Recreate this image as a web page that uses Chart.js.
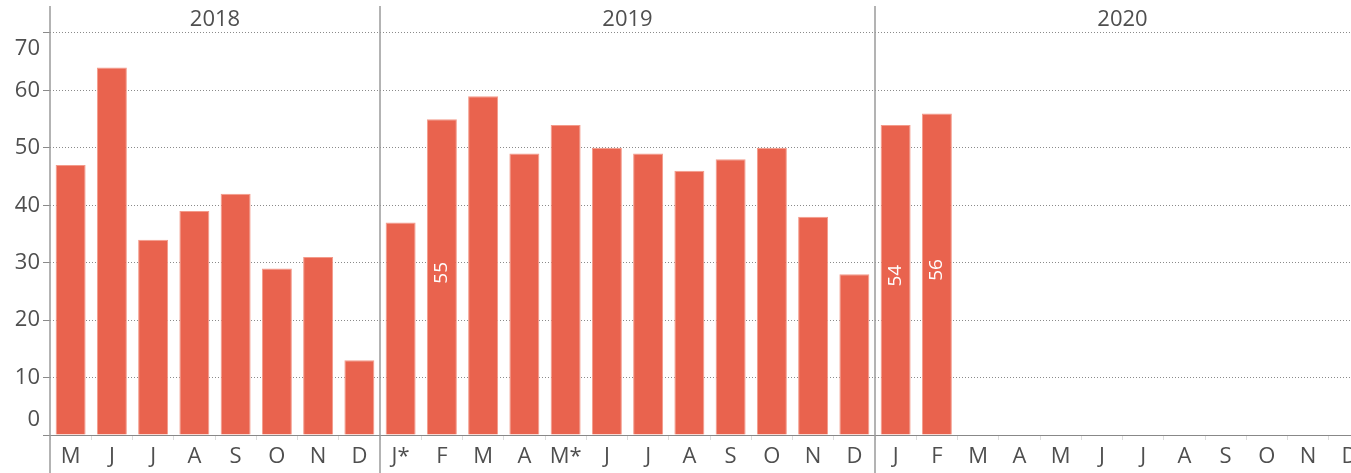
<!DOCTYPE html>
<html><head><meta charset="utf-8">
<script src="https://cdn.jsdelivr.net/npm/chart.js@4"></script>
<style>
html,body{margin:0;padding:0;background:#fff;overflow:hidden;}
#wrap{position:relative;width:1370px;height:473px;}
</style></head>
<body><div id="wrap"><canvas id="c"></canvas></div>
<script>
const years = ['2018', '2019', '2020'];
const monthsPerYear = [8, 12, 12];
const months = ['M','J','J','A','S','O','N','D',
                'J*','F','M','A','M*','J','J','A','S','O','N','D',
                'J','F','M','A','M','J','J','A','S','O','N','D'];
const values = [47, 64, 34, 39, 42, 29, 31, 13,
                37, 55, 59, 49, 54, 50, 49, 46, 48, 50, 38, 28,
                54, 56, null, null, null, null, null, null, null, null, null, null];
const labelledBars = [9, 20, 21];
const yTickValues = [0, 10, 20, 30, 40, 50, 60, 70];

const FONT = '"Open Sans", "DejaVu Sans", sans-serif';
const TEXT = '#4f4f4f';

const deco = {
  id: 'deco',
  afterDatasetsDraw(chart) {
    const ctx = chart.ctx;
    const meta = chart.getDatasetMeta(0);
    ctx.save();
    ctx.fillStyle = '#ffffff';
    ctx.font = '19px ' + FONT;
    ctx.textAlign = 'center';
    ctx.textBaseline = 'middle';
    labelledBars.forEach(i => {
      const el = meta.data[i];
      if (!el || values[i] == null) return;
      const cy = (el.y + el.base) / 2 - 4;
      ctx.save();
      ctx.translate(el.x, cy);
      ctx.rotate(-Math.PI / 2);
      ctx.fillText(String(values[i]), 0, 0);
      ctx.restore();
    });
    ctx.restore();
  },
  afterDraw(chart) {
    const ctx = chart.ctx;
    const xs = chart.scales.x, ys = chart.scales.y;
    const half = (xs.getPixelForValue(1) - xs.getPixelForValue(0)) / 2;
    ctx.save();
    let idx = 0;
    years.forEach((yr, i) => {
      const s = idx, e = idx + monthsPerYear[i] - 1;
      idx += monthsPerYear[i];
      const left = xs.getPixelForValue(s) - half;
      const right = xs.getPixelForValue(e) + half;
      ctx.strokeStyle = '#9a9a9a';
      ctx.lineWidth = 1.5;
      ctx.beginPath();
      ctx.moveTo(left, 6);
      ctx.lineTo(left, chart.height);
      ctx.stroke();
      ctx.fillStyle = TEXT;
      ctx.font = '22px ' + FONT;
      ctx.textAlign = 'center';
      ctx.textBaseline = 'middle';
      ctx.fillText(yr, (left + right) / 2, 20);
    });
    ctx.fillStyle = TEXT;
    ctx.font = '22px ' + FONT;
    ctx.textAlign = 'right';
    ctx.textBaseline = 'middle';
    yTickValues.forEach(v => {
      let py = ys.getPixelForValue(v);
      if (v === yTickValues[yTickValues.length - 1]) py += 16;
      if (v === 0) py -= 15;
      ctx.fillText(String(v), 40, py);
    });
    ctx.restore();
  }
};

new Chart(document.getElementById('c'), {
  type: 'bar',
  data: {
    labels: months,
    datasets: [{
      data: values,
      backgroundColor: '#e9634e',
      borderColor: '#f39a8a',
      borderWidth: 1,
      categoryPercentage: 1,
      barPercentage: 0.727
    }]
  },
  options: {
    responsive: true,
    maintainAspectRatio: false,
    animation: false,
    layout: { padding: { top: 6, left: 0, right: 0, bottom: 0 } },
    plugins: { legend: { display: false }, tooltip: { enabled: false } },
    scales: {
      x: {
        grid: { display: true, drawOnChartArea: false, drawTicks: true, tickLength: 5, color: '#dddddd', offset: true },
        border: { display: true, color: '#888888', width: 1 },
        ticks: { color: TEXT, font: { size: 22, family: FONT }, autoSkip: false, maxRotation: 0, padding: 4 },
        afterFit(scale) { scale.height = 38; }
      },
      y: {
        min: 0,
        max: 74.7,
        grid: { color: '#8a8a8a', lineWidth: 1, drawTicks: true, tickLength: 7 },
        border: { display: false, dash: [1, 2] },
        ticks: { display: false, stepSize: 10, includeBounds: false },
        afterFit(scale) { scale.width = 50; }
      }
    }
  },
  plugins: [deco]
});
</script>
</body></html>
